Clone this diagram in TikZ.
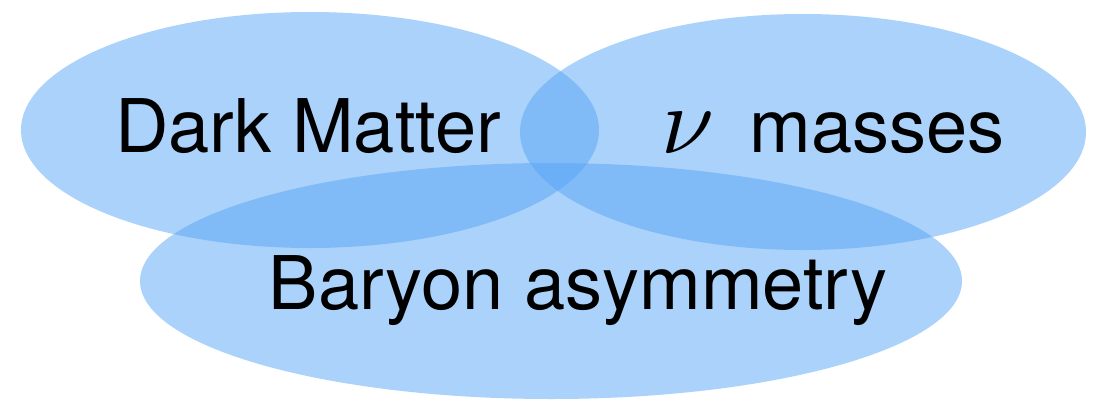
\documentclass[tikz,border=0pt]{standalone}
\usepackage{fontspec}
\setsansfont{TeX Gyre Heros}
\newfontfamily\nufont{Latin Modern Math}
\definecolor{vennblue}{RGB}{87,165,245}

\begin{document}
\begin{tikzpicture}[x=1pt,y=-1pt,
  venn/.style={fill=vennblue, fill opacity=0.5},
  lbl/.style={inner sep=0pt, outer sep=0pt, anchor=base, font=\sffamily\fontsize{74}{80}\selectfont}]
\useasboundingbox (0,0) rectangle (1110,399);
\fill[venn] (310,130) ellipse [x radius=289, y radius=118];
\fill[venn] (803,132) ellipse [x radius=283, y radius=118];
\fill[venn] (551,281) ellipse [x radius=411, y radius=118];
\node[lbl] (dm) at (308,152) {Dark Matter};
\node[lbl, font=\nufont\fontsize{95}{100}\selectfont] (nu) at (685,153) {𝜈};
\node[lbl] (mass) at (877,152) {masses};
\node[lbl] (bary) at (578,309) {Baryon asymmetry};
\end{tikzpicture}
\end{document}
